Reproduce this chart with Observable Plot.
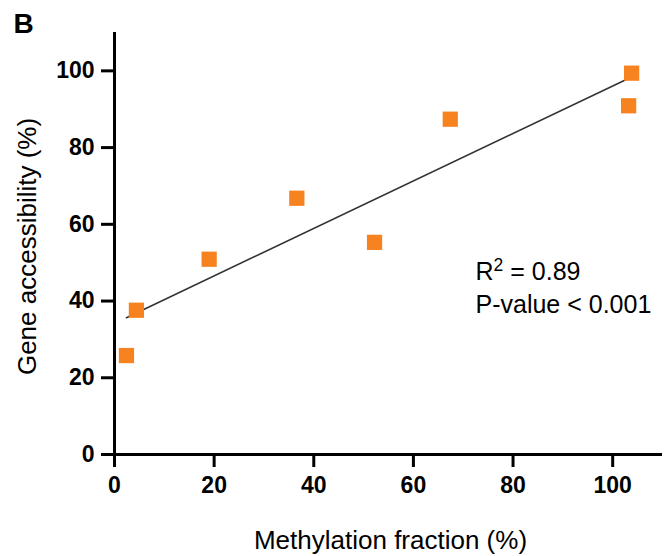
<!DOCTYPE html>
<html>
<head>
<meta charset="utf-8">
<script src="https://cdn.jsdelivr.net/npm/d3@7"></script>
<script src="https://cdn.jsdelivr.net/npm/@observablehq/plot@0.6"></script>
<style>
  html, body { margin: 0; padding: 0; background: #ffffff; }
  #chart svg { display: block; }
</style>
</head>
<body>
<div id="chart"></div>
<script>
// ---- data ----
const methylation   = [2.4, 4.4, 19.0, 36.6, 52.2, 67.4, 103.8, 103.2];
const accessibility = [25.8, 37.6, 50.9, 66.8, 55.3, 87.4, 99.4, 90.9];
const xTicks = [0, 20, 40, 60, 80, 100];
const yTicks = [0, 20, 40, 60, 80, 100];
const xLabel = ["Methylation fraction (%)"];
const yLabel = ["Gene accessibility (%)"];
const panelLabel = ["B"];
const rSquaredLine = ["R2 = 0.89"];
const pValueLine = ["P-value < 0.001"];

const points = methylation.map((x, i) => ({x, y: accessibility[i]}));
const FONT = "'Liberation Sans', Arial, Helvetica, sans-serif";

const chart = Plot.plot({
  width: 664,
  height: 556,
  marginLeft: 114,
  marginRight: 2,
  marginTop: 32,
  marginBottom: 102,
  style: {fontFamily: FONT, color: "#000", background: "#fff"},
  x: {domain: [0, 110]},
  y: {domain: [0, 110]},
  marks: [
    Plot.axisX({ticks: xTicks, tickSize: 13, tickPadding: 9, strokeWidth: 3, fontSize: 23, fontWeight: "bold", label: null}),
    Plot.axisY({ticks: yTicks, tickSize: 13, tickPadding: 7, strokeWidth: 3, fontSize: 23, fontWeight: "bold", label: null}),
    Plot.ruleY([0], {stroke: "#000", strokeWidth: 3}),
    Plot.ruleX([0], {stroke: "#000", strokeWidth: 3}),
    Plot.linearRegressionY(points, {x: "x", y: "y", ci: 0, stroke: "#333", strokeWidth: 1.6}),
    Plot.dot(points, {x: "x", y: "y", symbol: "square", r: 8.6, fill: "#F6831F", stroke: "none"}),
    Plot.text(xLabel, {text: d => d, frameAnchor: "bottom", dx: 2, dy: 94, lineAnchor: "bottom", textAnchor: "middle", fontSize: 26}),
    Plot.text(yLabel, {text: d => d, frameAnchor: "left", rotate: -90, dx: -79, dy: 3, lineAnchor: "bottom", textAnchor: "middle", fontSize: 26}),
    Plot.text(panelLabel, {text: d => d, frameAnchor: "top-left", dx: -101, dy: 0, lineAnchor: "bottom", textAnchor: "start", fontSize: 28, fontWeight: "bold"}),
    Plot.text(rSquaredLine, {text: d => d, frameAnchor: "top-left", dx: 361, dy: 247, lineAnchor: "bottom", textAnchor: "start", fontSize: 25}),
    Plot.text(pValueLine, {text: d => d, frameAnchor: "top-left", dx: 361, dy: 280.5, lineAnchor: "bottom", textAnchor: "start", fontSize: 25})
  ]
});

document.getElementById("chart").appendChild(chart);

// superscript "2" in the R² annotation
d3.select(chart).selectAll("text")
  .filter(function() { return this.textContent === rSquaredLine[0]; })
  .each(function() {
    const t = d3.select(this);
    t.text(null);
    t.append("tspan").text("R");
    t.append("tspan").attr("dy", -9).attr("font-size", "0.7em").text("2");
    t.append("tspan").attr("dy", 9).text(" = 0.89");
  });
</script>
</body>
</html>
